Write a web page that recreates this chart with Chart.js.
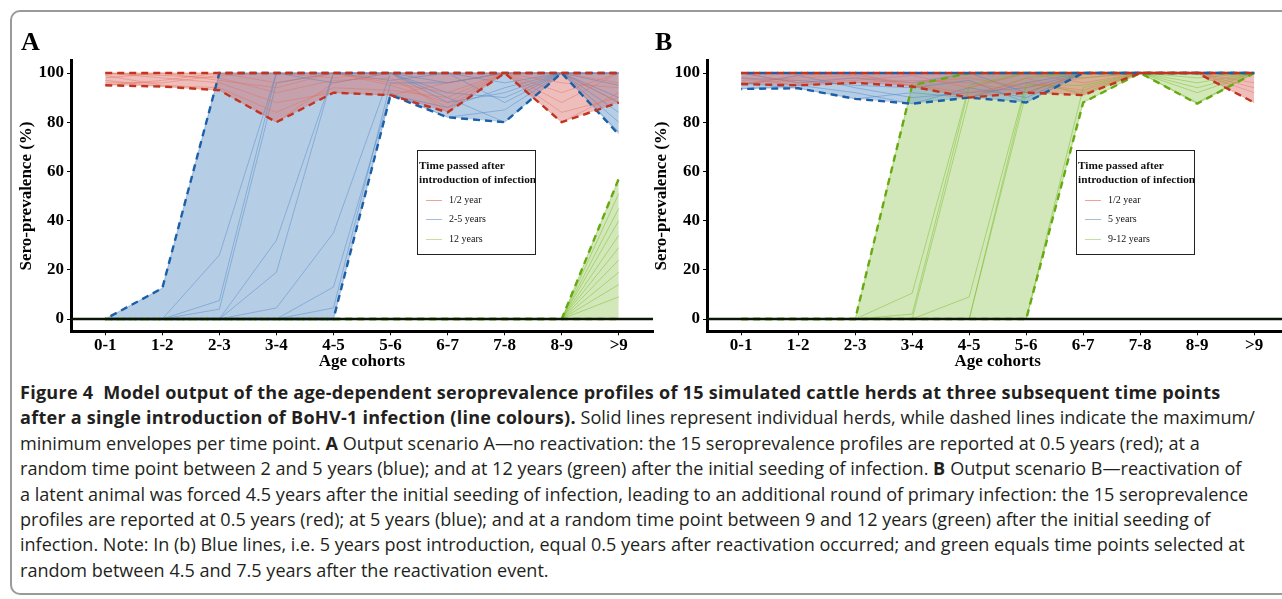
<!DOCTYPE html>
<html>
<head>
<meta charset="utf-8">
<script src="https://cdn.jsdelivr.net/npm/chart.js@4.4.1/dist/chart.umd.min.js"></script>
<style>
  html, body { margin:0; padding:0; background:#fff; width:1282px; height:599px; overflow:hidden; position:relative; }
  .frame { position:absolute; left:10px; top:10px; width:1300px; height:585px; border:2px solid #9a9a9a; border-radius:10px; box-sizing:border-box; }
  canvas { position:absolute; top:0; }
  #chartA { left:0; }
  #chartB { left:640px; }
  .letter { position:absolute; top:27px; font-family:"Liberation Serif", serif; font-weight:bold; font-size:26px; line-height:30px; color:#000; }
  .legend { position:absolute; top:150px; width:119px; height:105px; border:1.5px solid #222; background:#fff; font-family:"Liberation Serif", serif; color:#111; box-sizing:border-box; }
  .legend .ttl { position:absolute; left:0; top:7px; font-weight:bold; font-size:11.3px; line-height:14px; white-space:nowrap; }
  .legend .item { position:absolute; left:31px; font-size:10px; line-height:12px; white-space:nowrap; }
  .legend .key { position:absolute; left:8px; width:16px; height:1px; }
  .caption { position:absolute; left:20px; top:380px; font-family:"Open Sans", sans-serif; color:#231f20; font-size:16px; line-height:25.4px; }
  .caption div { white-space:nowrap; }
  .caption b { font-weight:bold; letter-spacing:0.25px; }
</style>
</head>
<body>
<div class="frame"></div>
<canvas id="chartA" width="655" height="380"></canvas>
<canvas id="chartB" width="660" height="380"></canvas>
<div class="letter" style="left:21px">A</div>
<div class="letter" style="left:655px">B</div>

<div class="legend" style="left:417px">
  <div class="ttl" style="left:1px">Time passed after<br>introduction of infection</div>
  <div class="key" style="top:49px;background:#f0a293"></div><div class="item" style="top:43px">1/2 year</div>
  <div class="key" style="top:68px;background:#a6bcd8"></div><div class="item" style="top:62px">2-5 years</div>
  <div class="key" style="top:88px;background:#c6df9c"></div><div class="item" style="top:82px">12 years</div>
</div>
<div class="legend" style="left:1076px">
  <div class="ttl" style="left:1px">Time passed after<br>introduction of infection</div>
  <div class="key" style="top:49px;background:#f0a293"></div><div class="item" style="top:43px">1/2 year</div>
  <div class="key" style="top:68px;background:#a6bcd8"></div><div class="item" style="top:62px">5 years</div>
  <div class="key" style="top:88px;background:#c6df9c"></div><div class="item" style="top:82px">9-12 years</div>
</div>

<div class="caption" id="caption">
  <div><b>Figure 4&nbsp; Model output of the age-dependent seroprevalence profiles of 15 simulated cattle herds at three subsequent time points</b></div>
  <div><b>after a single introduction of BoHV-1 infection (line colours).</b> Solid lines represent individual herds, while dashed lines indicate the maximum/</div>
  <div>minimum envelopes per time point. <b>A</b> Output scenario A—no reactivation: the 15 seroprevalence profiles are reported at 0.5 years (red); at a</div>
  <div>random time point between 2 and 5 years (blue); and at 12 years (green) after the initial seeding of infection. <b>B</b> Output scenario B—reactivation of</div>
  <div id="fitLine">a latent animal was forced 4.5 years after the initial seeding of infection, leading to an additional round of primary infection: the 15 seroprevalence</div>
  <div>profiles are reported at 0.5 years (red); at 5 years (blue); and at a random time point between 9 and 12 years (green) after the initial seeding of</div>
  <div>infection. Note: In (b) Blue lines, i.e. 5 years post introduction, equal 0.5 years after reactivation occurred; and green equals time points selected at</div>
  <div>random between 4.5 and 7.5 years after the reactivation event.</div>
</div>

<script>
/*--------------------------------------------------------------------------*/
// categorias y ticks
const ageCohorts = ['0-1','1-2','2-3','3-4','4-5','5-6','6-7','7-8','8-9','>9'];
const yTicks = [0, 20, 40, 60, 80, 100];

/*--------------------------------------------------------------------------*/
// panel A - envolventes (max / min)
const aRedMax   = [100,100,100,100,100,100,100,100,100,100];
const aRedMin   = [95,94.5,93,80,92,91,84,100,80,88];
const aBlueMax  = [0,12.5,100,100,100,100,100,100,100,100];
const aBlueMin  = [0,0,0,0,0,91,82,80,100,75];
const aGreenMax = [0,0,0,0,0,0,0,0,0,57];
const aGreenMin = [0,0,0,0,0,0,0,0,0,0];

// panel A - rebaños individuales
const aRedHerds = [
  [100,100,100,100,100,100,100,100,100,100],
  [95,97,100,96,100,96,92,100,100,96],
  [97,94.5,93,80,96,100,84,100,80,92],
  [100,98,96,88,92,91,96,100,92,100],
  [98,100,97,94,100,95,88,100,100,88],
  [96,96,99,100,98,100,100,100,88,100],
  [99,95,94,84,94,93,90,100,96,94],
  [100,99,98,92,97,98,86,100,84,90]
];
const aBlueHerds = [
  [0,12.5,100,100,100,100,100,100,100,100],
  [0,0,26,100,100,100,100,96,100,100],
  [0,0,7.5,100,96,100,92,90,100,95],
  [0,0,4,96,100,100,96,100,100,88],
  [0,0,0,32,100,100,88,92,100,100],
  [0,0,0,19,100,97,100,88,100,84],
  [0,0,0,4.5,35,100,90,80,100,76],
  [0,0,0,0,13,92,82,85,100,90],
  [0,0,0,0,4.5,96,96,100,100,100],
  [0,0,0,0,0,91,86,94,100,80]
];
const aGreenHerds = [
  [0,0,0,0,0,0,0,0,0,57],
  [0,0,0,0,0,0,0,0,0,51],
  [0,0,0,0,0,0,0,0,0,45],
  [0,0,0,0,0,0,0,0,0,40],
  [0,0,0,0,0,0,0,0,0,34],
  [0,0,0,0,0,0,0,0,0,29],
  [0,0,0,0,0,0,0,0,0,24],
  [0,0,0,0,0,0,0,0,0,19],
  [0,0,0,0,0,0,0,0,0,14],
  [0,0,0,0,0,0,0,0,0,9]
];

/*--------------------------------------------------------------------------*/
// panel B - envolventes (max / min)
const bRedMax   = [100,100,100,100,100,100,100,100,100,100];
const bRedMin   = [95.5,95,96,94.5,90,92,91,100,100,88];
const bBlueMax  = [100,100,100,100,100,100,100,100,100,100];
const bBlueMin  = [93.5,93.8,89.5,87.5,90,88,100,100,100,100];
const bGreenMax = [0,0,0,95,100,100,100,100,100,100];
const bGreenMin = [0,0,0,0,0,0,88,100,87.5,100];

// panel B - rebaños individuales
const bRedHerds = [
  [100,100,100,100,100,100,100,100,100,100],
  [96,97,98,95,92,96,93,100,100,88],
  [98,95,96,97,96,92,100,100,100,94],
  [95.5,99,100,94.5,90,98,91,100,100,100],
  [100,96,97,99,94,100,96,100,100,92],
  [97,98,99,96,98,94,98,100,100,96]
];
const bBlueHerds = [
  [100,100,100,100,100,100,100,100,100,100],
  [93.5,95,92,87.5,94,90,100,100,100,100],
  [96,93.8,89.5,92,90,96,100,100,100,100],
  [98,97,95,94,97,88,100,100,100,100],
  [95,99,94,90,92,94,100,100,100,100],
  [100,96,98,96,100,92,100,100,100,100]
];
const bGreenHerds = [
  [0,0,0,95,100,100,100,100,100,100],
  [0,0,0,10.5,95,100,98,100,96,100],
  [0,0,0,0,90,98,100,100,100,100],
  [0,0,0,0,9,96,92,100,88,100],
  [0,0,0,2,94,100,100,100,94,100],
  [0,0,0,0,0,95,95,100,92,100],
  [0,0,0,0,0,92,100,100,87.5,100],
  [0,0,0,0,0,0,88,100,100,100],
  [0,0,0,0,0,0,94,100,98,100]
];

/*--------------------------------------------------------------------------*/
// colores
const red   = { line:'#c2341f', fill:'rgba(215,100,95,0.42)',  herd:'rgba(228,110,90,0.55)' };
const blue  = { line:'#1b5fa9', fill:'rgba(110,155,205,0.50)', herd:'rgba(70,130,195,0.55)' };
const green = { line:'#66aa0f', fill:'rgba(150,200,90,0.42)',  herd:'rgba(115,185,35,0.60)' };

/*--------------------------------------------------------------------------*/
// helpers
const toPoints = arr => arr.map((v, i) => ({ x: i, y: v }));

function envelope(maxArr, minArr, col, dashOffset) {
  return [
    { data: toPoints(maxArr), borderColor: col.line, borderWidth: 2.4, borderDash: [7, 5],
      borderDashOffset: dashOffset, pointRadius: 0, fill: '+1', backgroundColor: col.fill },
    { data: toPoints(minArr), borderColor: col.line, borderWidth: 2.4, borderDash: [7, 5],
      borderDashOffset: dashOffset, pointRadius: 0, fill: false }
  ];
}

function herdLines(herds, col) {
  return herds.map(h => ({
    data: toPoints(h), borderColor: col.herd, borderWidth: 0.8, pointRadius: 0, fill: false
  }));
}

// linea horizontal en 0
const zeroLine = {
  id: 'zeroLine',
  afterDatasetsDraw(chart) {
    const { ctx, chartArea, scales } = chart;
    const y = scales.y.getPixelForValue(0);
    ctx.save();
    ctx.strokeStyle = '#0b1505';
    ctx.lineWidth = 2.6;
    ctx.beginPath();
    ctx.moveTo(chartArea.left, y);
    ctx.lineTo(chartArea.right, y);
    ctx.stroke();
    ctx.restore();
  }
};

const serifBold = size => ({ family: 'Liberation Serif', size: size, weight: 'bold' });

function makeChart(id, datasets, pad, yWidth, yTitlePad) {
  return new Chart(document.getElementById(id), {
    type: 'line',
    data: { datasets: datasets },
    plugins: [zeroLine],
    options: {
      responsive: false,
      animation: false,
      layout: { padding: pad },
      plugins: {
        legend: { display: false },
        tooltip: { enabled: false },
        filler: { drawTime: 'beforeDatasetsDraw' }
      },
      elements: { line: { tension: 0 } },
      scales: {
        x: {
          type: 'linear', min: -0.6, max: 9.6,
          afterBuildTicks: s => { s.ticks = ageCohorts.map((c, i) => ({ value: i })); },
          afterFit: s => { s.height = 48.7; },
          ticks: { callback: v => ageCohorts[v], font: serifBold(17), color: '#000', padding: 0, maxRotation: 0, autoSkip: false },
          grid: { drawOnChartArea: false, drawTicks: true, tickLength: 4, color: '#000', lineWidth: 1 },
          border: { display: true, color: '#000', width: 3 },
          title: { display: true, text: 'Age cohorts', font: serifBold(17), color: '#000', padding: { top: 0, bottom: 7.8 } }
        },
        y: {
          min: -5, max: 105,
          afterBuildTicks: s => { s.ticks = yTicks.map(v => ({ value: v })); },
          afterFit: s => { s.width = yWidth; },
          ticks: { font: serifBold(17), color: '#000', padding: 3 },
          grid: { drawOnChartArea: false, drawTicks: true, tickLength: 4, color: '#000', lineWidth: 1 },
          border: { display: true, color: '#000', width: 3 },
          title: { display: true, text: 'Sero-prevalence (%)', font: serifBold(17), color: '#000', padding: { top: yTitlePad, bottom: 0 } }
        }
      }
    }
  });
}

/*--------------------------------------------------------------------------*/
// graficos
const datasetsA = [].concat(
  envelope(aRedMax, aRedMin, red, 0),
  envelope(aBlueMax, aBlueMin, blue, 6),
  envelope(aGreenMax, aGreenMin, green, 0),
  herdLines(aRedHerds, red),
  herdLines(aBlueHerds, blue),
  herdLines(aGreenHerds, green)
);
const datasetsB = [].concat(
  envelope(bRedMax, bRedMin, red, 0),
  envelope(bBlueMax, bBlueMin, blue, 6),
  envelope(bGreenMax, bGreenMin, green, 0),
  herdLines(bRedHerds, red),
  herdLines(bBlueHerds, blue),
  herdLines(bGreenHerds, green)
);

makeChart('chartA', datasetsA, { left: 0, top: 60.7, right: 2, bottom: 0 }, 71, 16.8);
makeChart('chartB', datasetsB, { left: 0, top: 60.7, right: 11.6, bottom: 0 }, 67, 11.8);

/*--------------------------------------------------------------------------*/
// ajustar tamaño del texto del pie de figura
const cap = document.getElementById('caption');
const fit = document.getElementById('fitLine');
const w = fit.getBoundingClientRect().width;
cap.style.fontSize = (16 * 1238 / w) + 'px';
</script>
</body>
</html>
